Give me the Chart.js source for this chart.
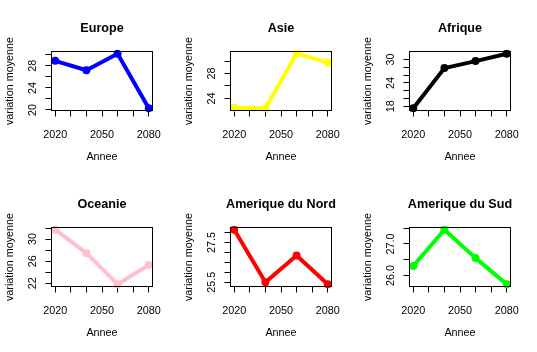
<!DOCTYPE html>
<html><head><meta charset="utf-8">
<script src="https://cdn.jsdelivr.net/npm/chart.js@4/dist/chart.umd.min.js"></script>
<style>
html,body{margin:0;padding:0;background:#fff;}
#wrap{position:relative;width:537px;height:352px;background:#fff;}
#wrap canvas{position:absolute;}
</style></head><body><div id="wrap"></div>
<script>
// ---- data ----
const years = [2020, 2040, 2060, 2080];
const regions = ['Europe', 'Asie', 'Afrique', 'Oceanie', 'Amerique du Nord', 'Amerique du Sud'];
const europe  = [28.9, 27.2, 30.2, 20.3];
const asie    = [22.5, 22.4, 31.2, 29.8];
const afrique = [17.5, 27.8, 29.6, 31.5];
const oceanie = [31.7, 27.45, 21.8, 25.3];
const ameriqueNord = [28.15, 25.5, 26.85, 25.4];
const ameriqueSud  = [26.3, 27.45, 26.55, 25.72];
const seriesValues = [europe, asie, afrique, oceanie, ameriqueNord, ameriqueSud];
const colors = ['#0000FF', '#FFFF00', '#000000', '#FFC0CB', '#FF0000', '#00FF00'];

const xTicks = [2020, 2030, 2040, 2050, 2060, 2070, 2080];
const xTickLabels = ['2020', '2050', '2080'];
const yTicks = [
  [20, 22, 24, 26, 28, 30],
  [24, 26, 28, 30],
  [18, 20, 22, 24, 26, 28, 30],
  [22, 24, 26, 28, 30, 32],
  [25.5, 26, 26.5, 27, 27.5, 28],
  [26, 26.5, 27, 27.5]
];
const yTickLabels = [
  ['20', '24', '28'],
  ['24', '28'],
  ['18', '24', '30'],
  ['22', '26', '30'],
  ['25.5', '27.5'],
  ['26.0', '27.0']
];
const xTitle = 'Annee';
const yTitle = 'variation moyenne';

// ---- layout ----
const PW = 179, PH = 176;
const FONT = "'Liberation Sans', Arial, sans-serif";
const AX = 10.8, TT = 12.6;
const BOX = {left: 51.5, top: 51.5, right: 152.5, bottom: 110.5};

function extend(lo, hi) { const d = (hi - lo) * 0.04; return [lo - d, hi + d]; }

const rAxisPlugin = {
  id: 'rAxis',
  afterDraw(chart, args, opts) {
    const {ctx, chartArea: a} = chart;
    const y = chart.scales.y;
    ctx.save();
    ctx.strokeStyle = '#000';
    ctx.lineWidth = 1;
    ctx.strokeRect(a.left, a.top, a.right - a.left, a.bottom - a.top);
    ctx.fillStyle = '#000';
    // main title, centred over the plot region
    ctx.font = 'bold ' + TT + 'px ' + FONT;
    ctx.textAlign = 'center';
    ctx.textBaseline = 'alphabetic';
    ctx.fillText(opts.title, (a.left + a.right) / 2, 31.8);
    // y tick labels, parallel to the axis
    ctx.font = AX + 'px ' + FONT;
    opts.labels.forEach(lbl => {
      const py = y.getPixelForValue(parseFloat(lbl));
      ctx.save();
      ctx.translate(a.left - 15.5, py);
      ctx.rotate(-Math.PI / 2);
      ctx.fillText(lbl, 0, 0);
      ctx.restore();
    });
    ctx.restore();
  }
};

const wrap = document.getElementById('wrap');
regions.forEach((name, i) => {
  const col = i % 3, row = Math.floor(i / 3);
  const cv = document.createElement('canvas');
  cv.width = PW; cv.height = PH;
  cv.style.left = (col * PW) + 'px';
  cv.style.top = (row * PH) + 'px';
  cv.style.width = PW + 'px'; cv.style.height = PH + 'px';
  wrap.appendChild(cv);
  const vals = seriesValues[i];
  const [ymin, ymax] = extend(Math.min(...vals), Math.max(...vals));
  const [xmin, xmax] = extend(years[0], years[years.length - 1]);
  const tickY = yTicks[i];
  new Chart(cv, {
    type: 'line',
    data: {
      datasets: [{
        data: years.map((yr, k) => ({x: yr, y: vals[k]})),
        borderColor: colors[i],
        backgroundColor: colors[i],
        borderWidth: 4,
        borderCapStyle: 'round',
        borderJoinStyle: 'round',
        pointRadius: 4,
        pointBorderWidth: 0,
        pointHoverRadius: 4,
        tension: 0,
        clip: 2
      }]
    },
    options: {
      responsive: false,
      animation: false,
      devicePixelRatio: 1,
      events: [],
      layout: {padding: {left: 0, right: PW - BOX.right, top: BOX.top, bottom: 0}},
      plugins: {
        legend: {display: false},
        tooltip: {enabled: false},
        title: {display: false},
        rAxis: {labels: yTickLabels[i], title: name}
      },
      scales: {
        x: {
          type: 'linear', position: 'bottom', min: xmin, max: xmax,
          afterBuildTicks: s => { s.ticks = xTicks.map(v => ({value: v})); },
          afterFit: s => { s.height = PH - BOX.bottom; },
          grid: {display: true, drawOnChartArea: false, drawTicks: true, tickLength: 6, color: '#000', lineWidth: 1},
          border: {display: false},
          ticks: {
            color: '#000', padding: 11.8, maxRotation: 0, minRotation: 0, autoSkip: false,
            font: {family: FONT, size: AX},
            callback: v => xTickLabels.includes(String(v)) ? String(v) : ''
          },
          title: {display: true, text: xTitle, color: '#000', font: {family: FONT, size: AX}, padding: {top: 0, bottom: 12.5}}
        },
        y: {
          type: 'linear', position: 'left', min: ymin, max: ymax,
          afterBuildTicks: s => { s.ticks = tickY.map(v => ({value: v})); },
          afterFit: s => { s.width = BOX.left; },
          grid: {display: true, drawOnChartArea: false, drawTicks: true, tickLength: 6, color: '#000', lineWidth: 1},
          border: {display: false},
          ticks: {display: false},
          title: {display: true, text: yTitle, color: '#000', font: {family: FONT, size: AX}, padding: {top: 3.5, bottom: 0}}
        }
      }
    },
    plugins: [rAxisPlugin]
  });
});
</script></body></html>
